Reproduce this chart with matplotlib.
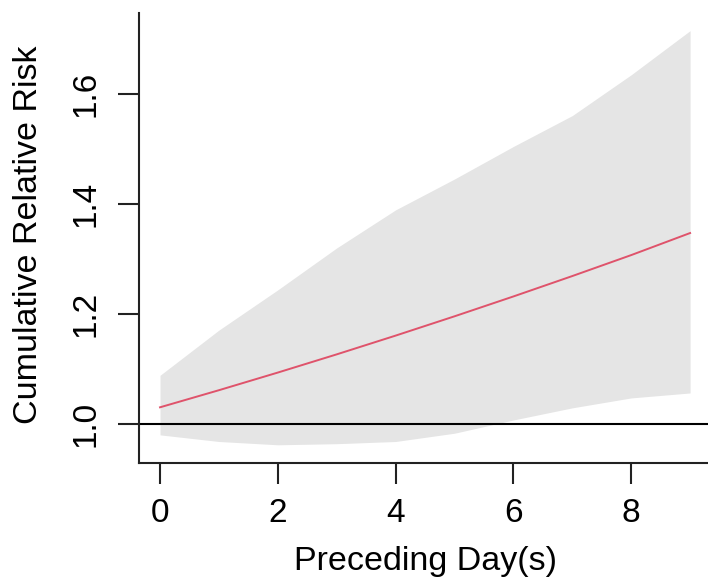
import matplotlib
matplotlib.use('Agg')
import matplotlib.pyplot as plt

# cumulative relative risk by lag day
days = [0, 1, 2, 3, 4, 5, 6, 7, 8, 9]
rr = [1.031, 1.062, 1.094, 1.127, 1.161, 1.196, 1.232, 1.269, 1.307, 1.347]
rr_low = [0.981, 0.969, 0.963, 0.965, 0.969, 0.984, 1.008, 1.030, 1.048, 1.057]
rr_high = [1.089, 1.171, 1.244, 1.320, 1.389, 1.445, 1.504, 1.560, 1.634, 1.714]
xticks = [0, 2, 4, 6, 8]
yticks = [1.0, 1.2, 1.4, 1.6]

plt.rcParams['font.family'] = ['Liberation Sans', 'DejaVu Sans']

W, H = 708, 578
fig = plt.figure(figsize=(W / 100, H / 100), dpi=100)
ax = fig.add_axes([139 / W, 1 - 463 / H, (708 - 139) / W, (463 - 13) / H])

ax.fill_between(days, rr_low, rr_high, color='#E5E5E5', linewidth=0)
ax.plot(days, rr, color='#DF536B', linewidth=1.4)
ax.axhline(1.0, color='black', linewidth=1.5)

ax.set_xlim(-0.357, 9.304)
ax.set_ylim(0.930, 1.746)
ax.set_xticks(xticks)
ax.set_xticklabels([str(t) for t in xticks])
ax.set_yticks(yticks)
ax.set_yticklabels(['%.1f' % t for t in yticks], rotation=90, va='center')

for s in ['top', 'right']:
    ax.spines[s].set_visible(False)
for s in ['left', 'bottom']:
    ax.spines[s].set_linewidth(1.5)
    ax.spines[s].set_color('#222222')

ax.tick_params(axis='both', direction='out', length=15, width=1.5,
               color='#222222', labelsize=24)
ax.tick_params(axis='x', pad=10)
ax.tick_params(axis='y', pad=12)

fig.text(426 / W, 1 - 570 / H, 'Preceding Day(s)', fontsize=24.5,
         ha='center', va='baseline')
fig.text(13 / W, 1 - 235 / H, 'Cumulative Relative Risk', fontsize=24.5,
         rotation=90, ha='left', va='center')

fig.savefig('out.png', dpi=100)
